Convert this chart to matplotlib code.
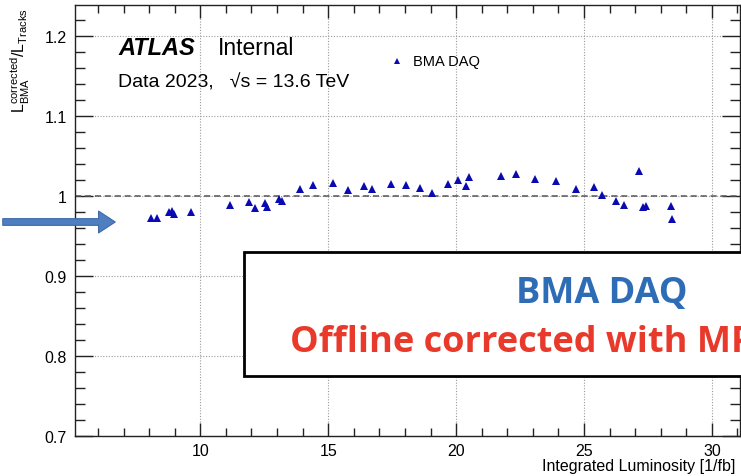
#
# plot.py
# -------
# BMA DAQ / track luminosity ratio vs integrated luminosity.
#

import numpy as np
import matplotlib
matplotlib.use("Agg")
import matplotlib.pyplot as plt
from matplotlib.patches import Rectangle, FancyArrowPatch
from matplotlib.ticker import MultipleLocator

# Integrated luminosity [1/fb]
lumi = [8.09, 8.31, 8.76, 8.89, 8.96, 9.64, 11.15, 11.90, 12.12, 12.51, 12.60,
        13.06, 13.20, 13.88, 14.40, 15.17, 15.79, 16.38, 16.72, 17.45, 18.03,
        18.60, 19.05, 19.67, 20.09, 20.38, 20.52, 21.74, 22.36, 23.09, 23.89,
        24.67, 25.39, 25.69, 26.24, 26.58, 27.15, 27.32, 27.42, 28.40, 28.45]
# L_BMA(corrected) / L_Tracks
ratio = [0.973, 0.9725, 0.980, 0.9816, 0.9775, 0.980, 0.989, 0.993, 0.985, 0.992, 0.987,
         0.996, 0.994, 1.009, 1.014, 1.0166, 1.008, 1.013, 1.009, 1.0154, 1.014,
         1.010, 1.004, 1.015, 1.020, 1.0125, 1.024, 1.025, 1.028, 1.021, 1.019,
         1.009, 1.011, 1.002, 0.994, 0.989, 1.031, 0.987, 0.9875, 0.9875, 0.972]

series_label = "BMA DAQ"
x_ticks = [10, 15, 20, 25, 30]
y_ticks = [0.7, 0.8, 0.9, 1.0, 1.1, 1.2]

plt.rcParams['font.family'] = ['Liberation Sans', 'DejaVu Sans']
plt.rcParams['mathtext.fontset'] = 'custom'
plt.rcParams['mathtext.rm'] = 'Liberation Sans'
plt.rcParams['mathtext.it'] = 'Liberation Sans:italic'

W, H = 741, 477
fig = plt.figure(figsize=(W / 100, H / 100), dpi=100)
ax = fig.add_axes([75 / W, 1 - 437 / H, 665 / W, 431 / H])

ax.plot(lumi, ratio, '^', color='#0a0ab4', markersize=5.5, markeredgewidth=0, zorder=3)
ax.axhline(1.0, color='#555555', lw=1.1, ls=(0, (4, 2.5)), zorder=2)

ax.set_xlim(5.1, 31.1)
ax.set_ylim(0.7, 1.239)
ax.set_xticks(x_ticks)
ax.set_yticks(y_ticks)
ax.set_yticklabels(['0.7', '0.8', '0.9', '1', '1.1', '1.2'])
ax.xaxis.set_minor_locator(MultipleLocator(1))
ax.yaxis.set_minor_locator(MultipleLocator(0.02))
ax.grid(True, which='major', color='#9a9a9a', lw=0.8, ls=(0, (1, 1.5)))
ax.tick_params(axis='both', which='both', direction='in', top=True, right=True,
               colors='#222222', labelcolor='black', labelsize=11.5, width=1)
ax.tick_params(axis='y', which='major', length=13, pad=6)
ax.tick_params(axis='y', which='minor', length=7)
ax.tick_params(axis='x', which='major', length=9.5, pad=5)
ax.tick_params(axis='x', which='minor', length=5.5)
for s in ax.spines.values():
    s.set_color('#222222')
    s.set_linewidth(1)

fig.text(735 / W, 1 - 467 / H, "Integrated Luminosity [1/fb]", fontsize=11.5,
         ha='right', va='center')
fig.text(20 / W, 1 - 8 / H, r'$\mathregular{L^{corrected}_{BMA}/L_{Tracks}}$',
         rotation=90, ha='center', va='top', fontsize=11.5)

# ATLAS label
fig.text(118 / W, 1 - 55 / H, "ATLAS", fontsize=17, weight='bold', style='italic')
fig.text(218 / W, 1 - 55 / H, "Internal", fontsize=16.5)
fig.text(118 / W, 1 - 88 / H, "Data 2023,   \u221as = 13.6 TeV", fontsize=14)

# legend
fig.add_artist(plt.Line2D([397 / W], [1 - 62 / H], marker='^', color='#0a0ab4',
                          markersize=4.5, markeredgewidth=0, transform=fig.transFigure))
fig.text(413 / W, 1 - 62 / H, series_label, fontsize=10.5, va='center')

# pasted annotation box and arrow
fig.add_artist(Rectangle((244 / W, 1 - 377 / H), 1, 124 / H, transform=fig.transFigure,
                         facecolor='white', edgecolor='black', lw=2, zorder=5))
fig.text(516 / W, 1 - 303 / H, "BMA DAQ", fontsize=26, family='Open Sans',
         weight='bold', color='#2e6db5', va='baseline', zorder=6)
fig.text(290 / W, 1 - 352 / H, "Offline corrected with MP", fontsize=26,
         family='Open Sans', weight='bold', color='#e8392a', va='baseline', zorder=6)

fig.add_artist(FancyArrowPatch((0, 1 - 223 / H), (118 / W, 1 - 223 / H),
                               transform=fig.transFigure,
                               arrowstyle='simple,head_length=0.8,head_width=1.05,tail_width=0.32',
                               mutation_scale=15, facecolor='#4f7fc0', edgecolor='#3e6aa8',
                               lw=0.8, zorder=7))

fig.savefig("out.png", dpi=100)
